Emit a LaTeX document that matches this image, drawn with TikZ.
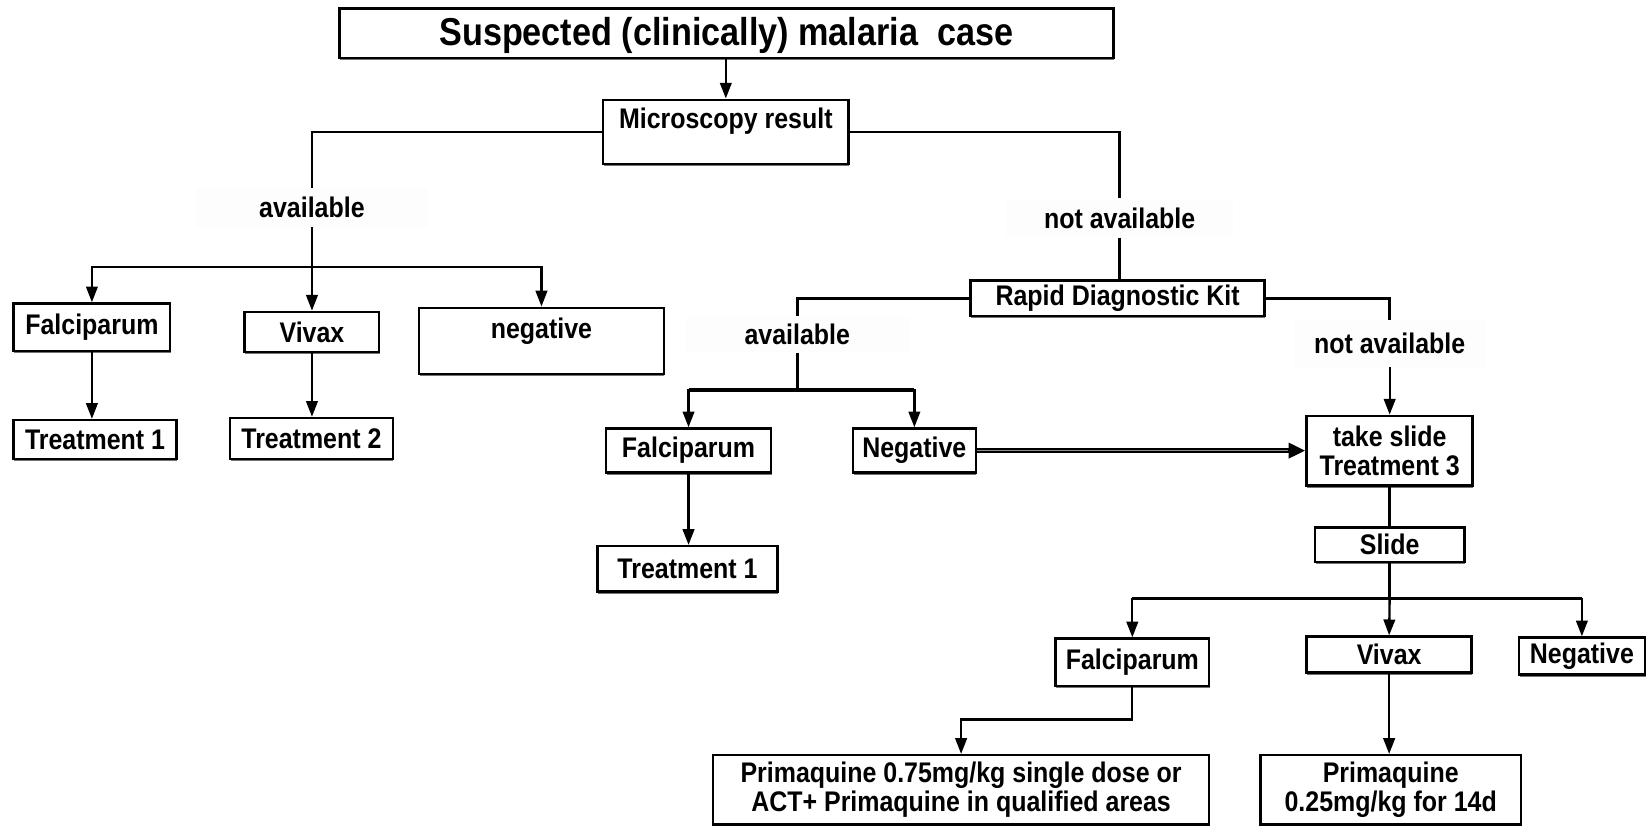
\documentclass[tikz,border=0pt]{standalone}
\usepackage{fontspec}
\setmainfont{Liberation Sans}
\newfontfamily\narrowfam[FakeStretch=0.88]{Liberation Sans}
\usetikzlibrary{arrows.meta,shadows}
\newcommand{\lblfont}{\narrowfam\bfseries\fontsize{27}{28}\selectfont}
\begin{document}
\begin{tikzpicture}[x=1pt,y=-1pt,
  box/.style={draw, line width=2.4pt, fill=white, inner sep=0pt, align=center,
    font=\lblfont,
    drop shadow={shadow xshift=0.6pt, shadow yshift=-2.2pt, opacity=1, fill=black!55}},
  lbl/.style={fill=black!0.8, inner sep=0pt, font=\lblfont},
  ln/.style={line width=2.4pt},
  arr/.style={line width=2.2pt, -{Triangle[length=15pt,width=11pt]}},
]
\useasboundingbox[fill=white] (0,0) rectangle (1568,786);

% nodes
\node[box, minimum width=737, minimum height=47] (title) at (691.5,31.5) {};
\node[font=\narrowfam\bfseries\fontsize{37}{38}\selectfont, inner sep=0pt] (titletxt) at (691.5,34) {Suspected (clinically) malaria\ \ case};
\node[box, minimum width=234, minimum height=61] (micro) at (691,125.5) {};
\node[font=\lblfont] (microtxt) at (691,115) {Microscopy result};

\node[lbl, minimum width=220, minimum height=37] (avail1) at (297,197.5) {available};
\node[box, minimum width=149, minimum height=45] (falc1) at (87.5,311.5) {Falciparum};
\node[box, minimum width=128, minimum height=38] (viv1) at (297,316) {Vivax};
\node[box, minimum width=233, minimum height=63] (neg1) at (515.5,324.5) {};
\node[font=\lblfont] (neg1txt) at (515.5,315) {negative};
\node[box, minimum width=155, minimum height=37] (treat1) at (90.5,418.5) {Treatment 1};
\node[box, minimum width=155, minimum height=39] (treat2) at (296.5,417.5) {Treatment 2};

\node[lbl, minimum width=216, minimum height=37] (notav1) at (1066,207.5) {not available};
\node[box, minimum width=280, minimum height=34] (rdk) at (1064,284) {Rapid Diagnostic Kit};
\node[lbl, minimum width=213, minimum height=34] (avail2) at (759,318.5) {available};
\node[lbl, minimum width=183, minimum height=44] (notav2) at (1323,327) {not available};

\node[box, minimum width=157, minimum height=42] (falc2) at (655.5,429) {Falciparum};
\node[box, minimum width=117, minimum height=42] (neg2) at (870.5,429) {Negative};
\node[box, minimum width=171, minimum height=43] (treat1b) at (654.5,541.5) {Treatment 1};

\node[box, minimum width=158, minimum height=66] (take) at (1323,429) {take slide\\Treatment 3};
\node[box, minimum width=142, minimum height=33] (slide) at (1323,518.5) {Slide};

\node[box, minimum width=146, minimum height=45] (falc3) at (1078,630.5) {Falciparum};
\node[box, minimum width=157, minimum height=34] (viv3) at (1322.5,623) {Vivax};
\node[box, minimum width=120, minimum height=35] (neg3) at (1506,624.5) {Negative};

\node[box, minimum width=472, minimum height=66] (prim1) at (915,752) {Primaquine 0.75mg/kg single dose or\\ACT+ Primaquine in qualified areas};
\node[box, minimum width=248, minimum height=66] (prim2) at (1324,752) {Primaquine\\0.25mg/kg for 14d};

% coordinates
\coordinate (bus1) at (297,254);
\coordinate (bus2) at (759,371);
\coordinate (bus3) at (1323,570);
\coordinate (e1) at (1078,685);

% connectors
\draw[arr] (title.south -| micro.north) -- (micro.north);
\draw[ln] (micro.west) -| (avail1.north);
\draw[ln] (micro.east) -| (notav1.north);

\draw[ln] (avail1.south) -- (bus1);
\draw[ln] (falc1.north |- bus1) -- (neg1.north |- bus1);
\draw[arr] (bus1) -| (falc1.north);
\draw[arr] (bus1) -- (viv1.north);
\draw[arr] (bus1) -| (neg1.north);
\draw[arr] (falc1.south) -- (falc1.south |- treat1.north);
\draw[arr] (viv1.south) -- (viv1.south |- treat2.north);

\draw[ln] (notav1.south) -- (notav1.south |- rdk.north);
\draw[ln] (rdk.west) -| (avail2.north);
\draw[ln] (rdk.east) -| (notav2.north);
\draw[ln] (avail2.south) -- (bus2);
\draw[line width=4pt] (falc2.north |- bus2) -- (neg2.north |- bus2);
\draw[arr] (bus2) -| (falc2.north);
\draw[arr] (bus2) -| (neg2.north);
\draw[arr] (notav2.south) -- (notav2.south |- take.north);
\draw[arr] (falc2.south) -- (falc2.south |- treat1b.north);
\draw[line width=5pt, -{Triangle[length=16pt,width=14pt]}] (neg2.east) -- (take.west);
\draw[line width=1.6pt, black!45] (neg2.east) -- ([xshift=-17pt]take.west);

\draw[ln] (take.south) -- (slide.north);
\draw[ln] (slide.south) -- (bus3);
\draw[ln] (falc3.north |- bus3) -- (neg3.north |- bus3);
\draw[arr] (bus3) -| (falc3.north);
\draw[arr] (bus3) -- (viv3.north);
\draw[arr] (bus3) -| (neg3.north);
\draw[arr] (falc3.south) -- (e1) -| (prim1.north);
\draw[arr] (viv3.south) -- (viv3.south |- prim2.north);
\end{tikzpicture}
\end{document}
